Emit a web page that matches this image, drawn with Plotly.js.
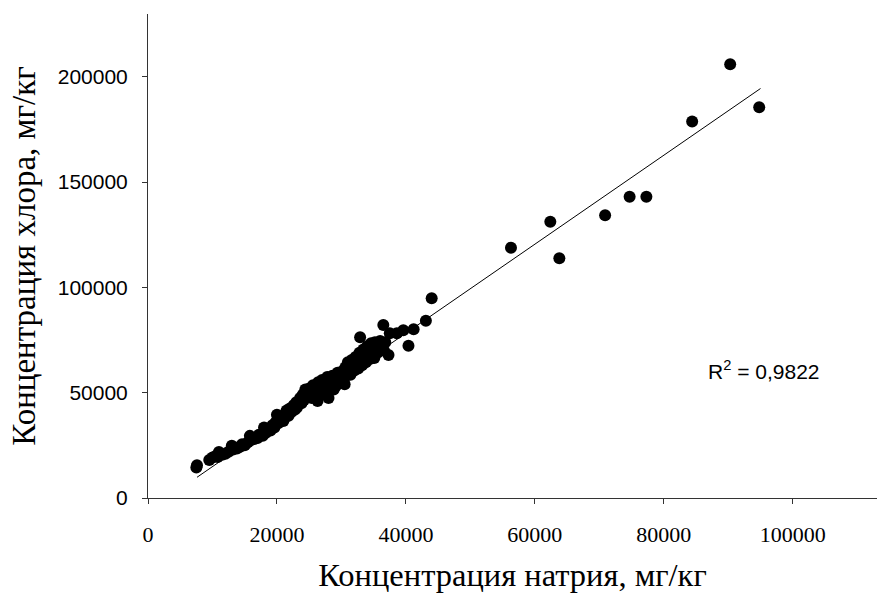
<!DOCTYPE html>
<html>
<head>
<meta charset="utf-8">
<script src="https://cdn.plot.ly/plotly-3.0.1.min.js"></script>
<style>html,body{margin:0;padding:0;background:#fff;}#chart{width:877px;height:594px;}</style>
</head>
<body>
<div id="chart"></div>
<script>
// Sodium concentration, mg/kg
const sodium = [
  7500, 7600, 9500, 10000, 10500, 11000, 10800, 11500, 12000, 12500,
  13000, 13200, 13800, 14200, 14600, 15000, 15500, 15800, 16000, 16500,
  17000, 17200, 17800, 18000, 18300, 18700, 19000, 19300, 19600, 19800,
  20000, 20200, 20500, 20800, 21000, 21300, 21500, 21800, 22000, 22300,
  22600, 22800, 23000, 23300, 23600, 23800, 24000, 24200, 24400, 24600,
  24800, 25000, 25200, 25400, 25600, 25800, 26000, 26200, 26400, 26600,
  26800, 27000, 27200, 27400, 27600, 27800, 28000, 28200, 28400, 28600,
  28800, 29000, 29200, 29400, 29600, 29800, 30000, 30200, 30400, 30600,
  30800, 31000, 31200, 31400, 31600, 31800, 32000, 32200, 32400, 32600,
  32800, 33000, 33200, 33400, 33600, 33800, 34000, 34200, 34400, 34600,
  34800, 35000, 35200, 35400, 35600, 35800, 36000, 36300, 36600, 36800,
  37300, 37500, 38600, 39600, 41200, 40400, 43100, 44000, 36500, 32900,
  23100, 25900, 27100, 29100, 31100, 33100, 35100, 21200, 26300, 30500,
  56300, 62400, 63800, 70900, 74700, 77300, 84400, 90300, 94800
];
// Chlorine concentration, mg/kg
const chlorine = [
  14500, 15600, 18000, 19200, 20000, 21800, 19500, 20500, 21000, 22000,
  24800, 23000, 23500, 24200, 25500, 25000, 26500, 29500, 27500, 28000,
  28500, 30000, 29500, 33500, 31000, 32500, 32000, 34500, 33500, 36000,
  39500, 35500, 37000, 38500, 36500, 40000, 41500, 39000, 42500, 41000,
  44000, 42000, 45500, 44500, 47500, 45000, 49000, 46500, 51500, 48000,
  50000, 52000, 49000, 47500, 53500, 50500, 52500, 48500, 55000, 51000,
  53000, 56000, 49500, 54000, 52000, 57500, 47500, 55500, 53000, 58000,
  51500, 56000, 54500, 59500, 57000, 55000, 60000, 58500, 56500, 62000,
  59500, 64500, 61000, 58500, 65500, 63000, 60500, 67000, 64000, 61500,
  69000, 66000, 63000, 70500, 67500, 64500, 72000, 69500, 66000, 73500,
  70500, 68000, 74000, 71500, 69000, 73000, 74500, 72500, 70000, 74000,
  67900, 78200, 78200, 79700, 80100, 72300, 84200, 94800, 82100, 76300,
  43000, 49500, 51000, 53000, 60000, 63500, 66500, 38000, 46000, 54000,
  118800, 131200, 113800, 134300, 143000, 143000, 178800, 205900, 185500
];
// Linear trend line end points (sodium) and fit parameters
const trendX = [7600, 95000];
const trendSlope = 2.112;
const trendIntercept = -6220;
const trendY = trendX.map(v => trendSlope * v + trendIntercept);

const xTicks = [0, 20000, 40000, 60000, 80000, 100000];
const yTicks = [0, 50000, 100000, 150000, 200000];
const r2Label = 'R<sup>2</sup> = 0,9822';

const traces = [
  {x: sodium, y: chlorine, type: 'scatter', mode: 'markers',
   marker: {color: '#000', size: 12, line: {width: 0}}, hoverinfo: 'x+y'},
  {x: trendX, y: trendY, type: 'scatter', mode: 'lines',
   line: {color: '#000', width: 1}, hoverinfo: 'skip'}
];

const layout = {
  width: 877, height: 594,
  margin: {l: 148, r: 0, t: 14, b: 96},
  paper_bgcolor: '#fff', plot_bgcolor: '#fff',
  showlegend: false,
  xaxis: {
    range: [0, 113070], showgrid: false, zeroline: false,
    showline: true, linecolor: '#333', linewidth: 1,
    ticks: 'outside', ticklen: 5, tickcolor: '#333', tickwidth: 1,
    tickvals: xTicks, ticktext: xTicks.map(String),
    tickfont: {family: 'Liberation Serif, Times New Roman, serif', size: 22, color: '#000'},
    ticklabelstandoff: 12,
    title: {text: 'Концентрация натрия, мг/кг', standoff: 16,
            font: {family: 'Liberation Serif, Times New Roman, serif', size: 32.5, color: '#000'}},
    automargin: false
  },
  yaxis: {
    range: [0, 229800], showgrid: false, zeroline: false,
    showline: true, linecolor: '#333', linewidth: 1,
    ticks: 'outside', ticklen: 5, tickcolor: '#333', tickwidth: 1,
    tickvals: yTicks, ticktext: yTicks.map(String),
    tickfont: {family: 'Liberation Sans, Arial, sans-serif', size: 21, color: '#000'},
    ticklabelstandoff: 10,
    title: {text: 'Концентрация хлора, мг/кг', standoff: 12,
            font: {family: 'Liberation Serif, Times New Roman, serif', size: 33, color: '#000'}},
    automargin: false
  },
  annotations: [{
    x: 95550, y: 60760, xref: 'x', yref: 'y', text: r2Label, showarrow: false,
    xanchor: 'center', yanchor: 'middle',
    font: {family: 'Liberation Sans, Arial, sans-serif', size: 21, color: '#000'}
  }]
};

Plotly.newPlot('chart', traces, layout, {displayModeBar: false, staticPlot: true});
</script>
</body>
</html>
